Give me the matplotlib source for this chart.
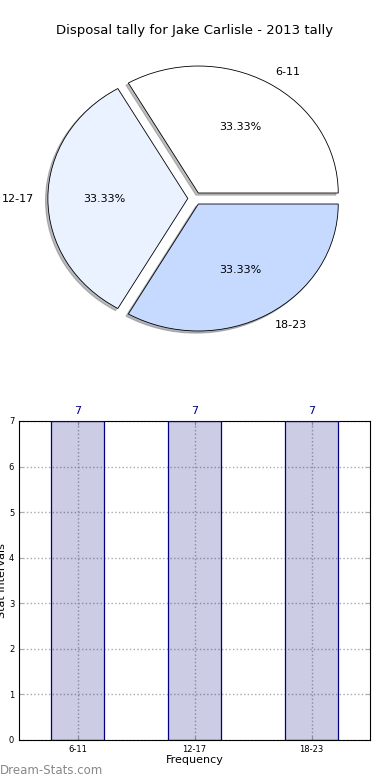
import matplotlib
matplotlib.use("Agg")
import matplotlib.pyplot as plt
import numpy as np

title = "Disposal tally for Jake Carlisle - 2013 tally"
intervals = ["6-11", "12-17", "18-23"]
counts = [7, 7, 7]
pie_colors = ["#ffffff", "#eaf1ff", "#c6d9ff"]

fig = plt.figure(figsize=(3.9, 7.8), dpi=100)

# Pie (stretched, not circular, like the reference)
ax1 = fig.add_axes([0.051, 0.542, 0.897, 0.407])
wedges, texts, autotexts = ax1.pie(
    counts, labels=intervals, colors=pie_colors, autopct="%.2f%%",
    explode=[0.05] * len(counts),
    shadow=dict(ox=-0.012, oy=-0.012, shade=0.5, edgecolor="#777777", linewidth=0.8),
    startangle=0,
    wedgeprops=dict(edgecolor="black", linewidth=0.6),
    textprops=dict(fontsize=8))
ax1.set_aspect("auto")
ax1.set_xlim(-1.25, 1.25)
ax1.set_ylim(-1.25, 1.25)
fig.text(0.5, 0.961, title, ha="center", va="center", fontsize=9.5)

# Bar chart
ax2 = fig.add_axes([0.049, 0.0513, 0.9, 0.409])
x = np.arange(len(intervals))
ax2.bar(x, counts, width=0.45, color="navy", alpha=0.2, zorder=2)
ax2.bar(x, counts, width=0.45, fill=False, edgecolor="navy", linewidth=0.9, zorder=3)
for xi, c in zip(x, counts):
    ax2.text(xi, c + 0.1, str(c), ha="center", va="bottom", color="navy", fontsize=8)
ax2.set_xlim(-0.5, 2.5)
ax2.set_ylim(0, 7)
ax2.set_xticks(x)
ax2.set_xticklabels(intervals, fontsize=6)
ax2.set_yticks(range(0, 8))
ax2.tick_params(axis="y", labelsize=6)
ax2.tick_params(direction="in", length=3, top=True, right=True, color="#aaaaaa")
ax2.grid(True, linestyle=":", color="#aaaaaa", linewidth=1.0, zorder=0)
ax2.set_axisbelow(True)
ax2.set_xlabel("Frequency", fontsize=8, labelpad=1)
ax2.set_ylabel("Stat Intervals", fontsize=8, labelpad=1)

fig.text(0.0, 0.012, "Dream-Stats.com", color="#888888", fontsize=8.5, ha="left", va="center")

fig.savefig("out.png", dpi=100)
